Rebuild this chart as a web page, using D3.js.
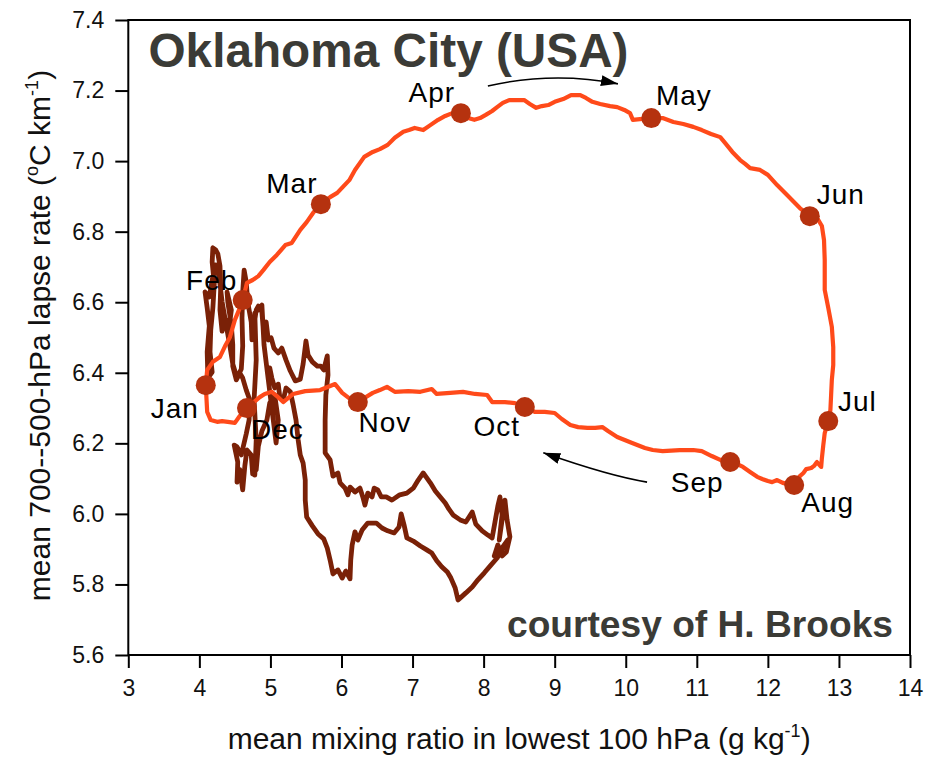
<!DOCTYPE html>
<html><head><meta charset="utf-8">
<script src="https://cdn.jsdelivr.net/npm/d3@7"></script>
<style>body{margin:0;background:#fff;} svg{display:block;}</style>
</head><body>
<svg id="chart" width="929" height="759"></svg>
<script>
// ---------------- data ----------------
const xTicks = [3,4,5,6,7,8,9,10,11,12,13,14];
const yTicks = [5.6,5.8,6.0,6.2,6.4,6.6,6.8,7.0,7.2,7.4];

const months = ["Jan","Feb","Mar","Apr","May","Jun","Jul","Aug","Sep","Oct","Nov","Dec"];
const monthX = [4.09, 4.61, 5.71, 7.68, 10.36, 12.59, 12.85, 12.37, 11.47, 8.58, 6.23, 4.67];
const monthY = [6.365, 6.606, 6.878, 7.136, 7.122, 6.844, 6.263, 6.082, 6.147, 6.303, 6.317, 6.300];

// Oklahoma City annual cycle (mixing ratio, lapse rate)
const cycleOKC = [
[4.09,6.365],[4.11,6.408],[4.19,6.431],[4.29,6.445],[4.37,6.479],[4.43,6.501],[4.50,6.550],[4.57,6.584],
[4.61,6.606],[4.67,6.655],[4.75,6.663],[4.83,6.674],[4.90,6.691],[4.99,6.714],[5.09,6.734],[5.21,6.762],
[5.30,6.768],[5.42,6.805],[5.51,6.827],[5.60,6.853],[5.71,6.878],[5.84,6.898],[5.94,6.910],[6.02,6.927],
[6.11,6.946],[6.19,6.975],[6.32,7.012],[6.44,7.026],[6.54,7.034],[6.65,7.046],[6.75,7.066],[6.87,7.083],
[6.95,7.088],[7.03,7.094],[7.15,7.088],[7.25,7.102],[7.36,7.117],[7.46,7.128],[7.56,7.136],[7.68,7.136],
[7.78,7.122],[7.87,7.117],[7.95,7.122],[8.03,7.131],[8.12,7.142],[8.19,7.153],[8.27,7.165],[8.36,7.173],
[8.47,7.173],[8.57,7.173],[8.65,7.162],[8.74,7.151],[8.82,7.156],[8.91,7.159],[9.00,7.168],[9.12,7.176],
[9.23,7.187],[9.36,7.187],[9.44,7.179],[9.53,7.168],[9.64,7.162],[9.78,7.156],[9.88,7.153],[9.98,7.145],
[10.06,7.136],[10.10,7.117],[10.20,7.119],[10.36,7.122],[10.52,7.122],[10.67,7.111],[10.81,7.105],[10.95,7.097],
[11.07,7.088],[11.20,7.077],[11.33,7.068],[11.40,7.051],[11.50,7.026],[11.61,7.003],[11.68,6.992],[11.75,6.980],
[11.89,6.975],[12.00,6.961],[12.13,6.932],[12.27,6.904],[12.45,6.867],[12.59,6.844],[12.71,6.833],[12.76,6.816],
[12.79,6.776],[12.80,6.720],[12.80,6.635],[12.85,6.584],[12.90,6.530],[12.92,6.473],[12.92,6.422],[12.90,6.380],
[12.89,6.337],[12.88,6.295],[12.85,6.263],[12.80,6.229],[12.78,6.195],[12.76,6.158],[12.75,6.133],[12.69,6.147],
[12.65,6.136],[12.61,6.130],[12.54,6.127],[12.50,6.116],[12.45,6.107],[12.37,6.082],[12.27,6.085],[12.21,6.088],
[12.13,6.096],[12.06,6.090],[12.00,6.093],[11.92,6.099],[11.85,6.105],[11.75,6.119],[11.65,6.133],[11.57,6.141],
[11.47,6.147],[11.33,6.153],[11.21,6.164],[11.07,6.178],[10.95,6.181],[10.76,6.181],[10.52,6.178],[10.38,6.181],
[10.27,6.187],[10.09,6.201],[9.88,6.218],[9.75,6.235],[9.67,6.246],[9.57,6.244],[9.46,6.244],[9.33,6.246],
[9.22,6.252],[9.10,6.269],[9.00,6.286],[8.86,6.289],[8.72,6.289],[8.58,6.303],[8.44,6.314],[8.30,6.317],
[8.12,6.317],[8.05,6.337],[7.88,6.340],[7.71,6.346],[7.53,6.343],[7.34,6.340],[7.27,6.354],[7.11,6.346],
[6.94,6.348],[6.75,6.346],[6.64,6.360],[6.54,6.351],[6.44,6.343],[6.23,6.317],[6.12,6.326],[6.01,6.343],
[5.91,6.368],[5.70,6.351],[5.49,6.348],[5.32,6.340],[5.18,6.317],[5.09,6.334],[5.02,6.346],[4.92,6.340],
[4.85,6.331],[4.67,6.300],[4.57,6.278],[4.50,6.258],[4.40,6.261],[4.32,6.263],[4.25,6.261],[4.16,6.266],
[4.11,6.289],[4.09,6.365]
];

// second (dark brown) trajectory
const cycleOther = [
[4.78,6.110],[4.80,6.210],[4.77,6.323],[4.80,6.436],[4.78,6.569],[4.88,6.592],[4.91,6.479],[4.97,6.380],
[5.04,6.266],[5.08,6.201],[5.11,6.266],[5.06,6.337],
[4.99,6.314],[4.95,6.266],[4.88,6.235],[4.83,6.192],[4.80,6.125],[4.75,6.113],[4.73,6.167],[4.67,6.181],
[4.64,6.136],[4.61,6.068],[4.57,6.125],[4.53,6.090],[4.54,6.147],[4.49,6.195],[4.53,6.190],[4.59,6.167],
[4.66,6.227],[4.70,6.266],[4.71,6.323],[4.66,6.351],[4.61,6.385],[4.57,6.399],[4.52,6.380],[4.47,6.419],
[4.47,6.479],[4.45,6.535],[4.40,6.601],[4.39,6.629],[4.45,6.578],[4.42,6.530],[4.36,6.555],[4.32,6.518],
[4.29,6.578],[4.30,6.640],[4.29,6.703],[4.26,6.737],[4.23,6.748],[4.19,6.754],[4.18,6.714],[4.21,6.652],
[4.19,6.584],[4.16,6.521],[4.15,6.459],[4.18,6.402],[4.12,6.385],[4.11,6.459],[4.14,6.533],[4.11,6.584],
[4.08,6.629],[4.14,6.615],[4.18,6.663],[4.23,6.706],[4.28,6.669],[4.32,6.601],[4.37,6.544],[4.43,6.476],
[4.47,6.425],[4.53,6.385],[4.59,6.411],[4.61,6.476],[4.60,6.555],[4.61,6.629],[4.63,6.691],[4.66,6.657],
[4.68,6.601],[4.73,6.544],[4.74,6.493],[4.80,6.578],[4.83,6.589],[4.88,6.572],[4.90,6.521],[4.94,6.544],
[4.97,6.493],[5.01,6.499],[5.05,6.470],[5.11,6.456],[5.16,6.470],[5.22,6.436],[5.28,6.405],[5.35,6.377],
[5.42,6.382],[5.46,6.425],[5.50,6.490],[5.53,6.450],[5.59,6.431],[5.66,6.419],[5.71,6.419],[5.75,6.408],
[5.80,6.448],[5.81,6.394],[5.78,6.337],[5.77,6.266],[5.77,6.173],[5.84,6.153],[5.88,6.107],[5.95,6.116],
[5.98,6.088],[6.05,6.073],[6.09,6.054],[6.12,6.076],[6.19,6.062],[6.26,6.073],[6.30,6.048],[6.33,6.025],
[6.37,6.059],[6.43,6.048],[6.46,6.073],[6.51,6.068],[6.56,6.048],[6.63,6.048],[6.71,6.039],[6.82,6.054],
[6.92,6.059],[7.01,6.073],[7.08,6.096],[7.15,6.116],[7.25,6.088],[7.32,6.065],[7.39,6.048],[7.46,6.031],
[7.51,6.014],[7.57,5.997],[7.67,5.983],[7.75,5.977],[7.84,6.005],[7.89,5.971],[7.98,5.952],[8.06,5.940],
[8.12,5.932],[8.16,5.977],[8.20,6.022],[8.23,6.048],[8.26,5.997],[8.22,5.926],[8.30,6.039],[8.33,5.983],
[8.37,5.935],[8.32,5.892],[8.26,5.881],[8.20,5.912],[8.15,5.881],[8.23,5.895],[8.34,5.926],[8.27,5.903],
[8.19,5.875],[8.09,5.852],[8.01,5.833],[7.92,5.813],[7.84,5.793],[7.75,5.776],[7.70,5.767],[7.64,5.756],
[7.60,5.790],[7.54,5.818],[7.49,5.835],[7.41,5.850],[7.34,5.867],[7.27,5.889],[7.20,5.898],[7.11,5.909],
[7.01,5.923],[6.92,5.932],[6.88,5.969],[6.84,6.000],[6.81,5.963],[6.74,5.946],[6.65,5.952],[6.57,5.960],
[6.49,5.974],[6.37,5.974],[6.29,5.954],[6.23,5.926],[6.19,5.949],[6.15,5.912],[6.13,5.869],[6.12,5.816],
[6.06,5.838],[6.01,5.818],[5.95,5.841],[5.88,5.830],[5.84,5.869],[5.80,5.903],[5.75,5.929],[5.67,5.943],
[5.59,5.966],[5.51,5.991],[5.49,6.039],[5.49,6.096],[5.46,6.144],[5.42,6.167],[5.39,6.210],[5.36,6.266],
[5.32,6.309],[5.28,6.346],[5.22,6.357],[5.18,6.323],[5.13,6.334],[5.11,6.368],[5.06,6.357],[5.02,6.385],
[4.99,6.414]
];

// annotation arrows: start, control, end (data units)
const arrowSpring = [[8.06,7.213],[8.98,7.255],[9.89,7.219]];
const arrowAutumn = [[10.30,6.090],[9.79,6.106],[8.84,6.173]];

const titleText = "Oklahoma City (USA)";
const creditText = "courtesy of H. Brooks";

// ---------------- drawing ----------------
const svg = d3.select("#chart");
const W = 929, H = 759;
const L = 128.3, R = 910, T = 20, B = 655;
const FONT = "'Liberation Sans', Arial, Helvetica, sans-serif";

const x = d3.scaleLinear().domain([3, 14]).range([L, R]);
const y = d3.scaleLinear().domain([5.6, 7.4]).range([B, T]);

svg.append("rect").attr("width", W).attr("height", H).attr("fill", "#fff");

const defs = svg.append("defs");
defs.append("marker")
  .attr("id", "head")
  .attr("viewBox", "0 0 10 10")
  .attr("refX", 10).attr("refY", 5)
  .attr("markerUnits", "userSpaceOnUse")
  .attr("markerWidth", 17).attr("markerHeight", 11)
  .attr("preserveAspectRatio", "none")
  .attr("orient", "auto")
  .append("path").attr("d", "M0,0 L10,5 L0,10 Z").attr("fill", "#000");

// axes
const xAxis = d3.axisBottom(x).tickValues(xTicks).tickSize(13).tickSizeOuter(0).tickPadding(12)
  .tickFormat(d3.format("d"));
const yAxis = d3.axisLeft(y).tickValues(yTicks).tickSize(13).tickSizeOuter(0).tickPadding(11)
  .tickFormat(d3.format(".1f"));

const gx = svg.append("g").attr("transform", `translate(0,${B})`).call(xAxis);
const gy = svg.append("g").attr("transform", `translate(${L},0)`).call(yAxis);
[gx, gy].forEach(g => {
  g.select(".domain").remove();
  g.selectAll(".tick line").attr("stroke", "#000").attr("stroke-width", 2);
  g.selectAll(".tick text").attr("fill", "#111").style("font-family", FONT).style("font-size", "23px");
});

// data lines
const line = d3.line().x(d => x(d[0])).y(d => y(d[1]));

svg.append("path").datum(cycleOther)
  .attr("d", line).attr("fill", "none")
  .attr("stroke", "#7a2107").attr("stroke-width", 4.8)
  .attr("stroke-linejoin", "round").attr("stroke-linecap", "round");

svg.append("path").datum(cycleOKC)
  .attr("d", line).attr("fill", "none")
  .attr("stroke", "#ff4a1a").attr("stroke-width", 4.2)
  .attr("stroke-linejoin", "round").attr("stroke-linecap", "round");

// month markers
const mdata = months.map((m, i) => ({m, x: monthX[i], y: monthY[i]}));
svg.append("g").selectAll("circle").data(mdata).join("circle")
  .attr("cx", d => x(d.x)).attr("cy", d => y(d.y)).attr("r", 10)
  .attr("fill", "#b5320f");

// month labels (offset from marker, in px)
const labelOffset = {
  Jan: [-31, 32.5], Feb: [-31, -10], Mar: [-29, -11], Apr: [-29, -11], May: [32.5, -13],
  Jun: [31, -12], Jul: [29, -10], Aug: [33.5, 27], Sep: [-33, 29.5], Oct: [-28, 29.5],
  Nov: [27, 29.5], Dec: [30.5, 31]
};
svg.append("g").selectAll("text").data(mdata).join("text")
  .attr("x", d => x(d.x) + labelOffset[d.m][0])
  .attr("y", d => y(d.y) + labelOffset[d.m][1])
  .attr("text-anchor", "middle")
  .style("font-family", FONT).style("font-size", "28px").style("letter-spacing", "1px")
  .attr("fill", "#000")
  .text(d => d.m);

// arrows
const arrowPath = pts => {
  const p = d3.path();
  p.moveTo(x(pts[0][0]), y(pts[0][1]));
  p.quadraticCurveTo(x(pts[1][0]), y(pts[1][1]), x(pts[2][0]), y(pts[2][1]));
  return p.toString();
};
[arrowSpring, arrowAutumn].forEach(a => {
  svg.append("path").attr("d", arrowPath(a)).attr("fill", "none")
    .attr("stroke", "#000").attr("stroke-width", 1.6).attr("marker-end", "url(#head)");
});

// frame
svg.append("rect").attr("x", L).attr("y", T).attr("width", R - L).attr("height", B - T)
  .attr("fill", "none").attr("stroke", "#000").attr("stroke-width", 2);

// title & credit
svg.append("text").attr("x", 148.5).attr("y", 67)
  .attr("textLength", 480).attr("lengthAdjust", "spacingAndGlyphs")
  .style("font-family", FONT).style("font-size", "48px").style("font-weight", "bold")
  .attr("fill", "#3b3b36").text(titleText);

svg.append("text").attr("x", 507).attr("y", 637)
  .attr("textLength", 386).attr("lengthAdjust", "spacingAndGlyphs")
  .style("font-family", FONT).style("font-size", "36px").style("font-weight", "bold")
  .attr("fill", "#3b3b36").text(creditText);

// axis titles
const xt = svg.append("text").attr("x", (L + R) / 2).attr("y", 749)
  .attr("text-anchor", "middle").style("font-family", FONT).style("font-size", "30px").attr("fill", "#111");
xt.append("tspan").text("mean mixing ratio in lowest 100 hPa (g kg");
xt.append("tspan").attr("dy", -12).style("font-size", "18px").text("-1");
xt.append("tspan").attr("dy", 12).text(")");

const yt = svg.append("text")
  .attr("transform", `translate(50,${(T + B) / 2 - 2}) rotate(-90)`)
  .attr("text-anchor", "middle").style("font-family", FONT).style("font-size", "30px").attr("fill", "#111");
yt.append("tspan").text("mean 700--500-hPa lapse rate (");
yt.append("tspan").attr("dy", -12).style("font-size", "18px").text("o");
yt.append("tspan").attr("dy", 12).text("C km");
yt.append("tspan").attr("dy", -12).style("font-size", "18px").text("-1");
yt.append("tspan").attr("dy", 12).text(")");
</script>
</body></html>
